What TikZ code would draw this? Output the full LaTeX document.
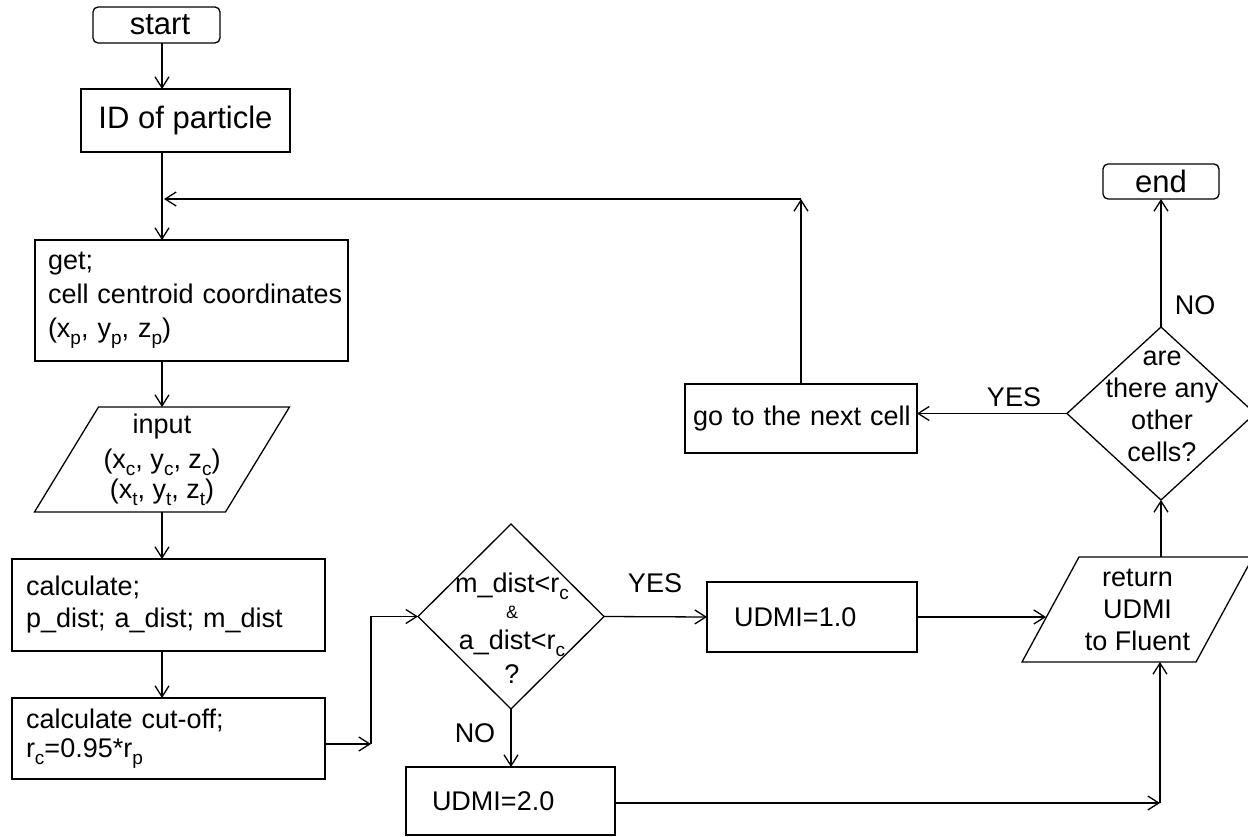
\documentclass[tikz,border=0pt]{standalone}
\usepackage{fontspec}
\setmainfont{Liberation Sans}
\usetikzlibrary{arrows.meta,shapes.geometric}
\newcommand\mysub[1]{\raisebox{-7pt}{\fontsize{19}{19}\selectfont #1}}
\begin{document}
\begin{tikzpicture}[x=1pt,y=-1pt,
  lw/.style={line width=1.3pt},
  txt/.style={font=\fontsize{27}{32}\selectfont},
  proc/.style={txt, draw, lw, rectangle, outer sep=0pt, inner ysep=0pt, align=left},
  term/.style={draw, lw, rectangle, rounded corners=5pt, outer sep=0pt, inner sep=0pt, font=\fontsize{31}{36}\selectfont},
  io/.style={txt, rectangle, outer sep=0pt, inner sep=0pt, align=center},
  dec/.style={draw, lw, diamond, outer sep=0pt, inner sep=0pt},
  lbl/.style={txt, inner sep=0pt, align=center},
  arr/.style={lw, -{Straight Barb[length=11pt,width=14pt]}}
]
\useasboundingbox (0,0) rectangle (1248,837);
\coordinate (spine) at (162,0);
\coordinate (j1) at (371,744);
\coordinate (j2) at (1160,803);
\coordinate (j3) at (801,199);
\coordinate (retin) at (1046,617);

% nodes
\node[term, minimum width=127pt, minimum height=36pt] (start) at (156.5,25) {\hspace*{7pt}start};
\node[proc, align=center, font=\fontsize{31}{36}\selectfont, minimum width=209pt, minimum height=63pt] (id) at (185.5,120.5) {ID of particle};
\node[proc, minimum width=313pt, minimum height=121pt, inner xsep=13pt, text width=287pt, font=\fontsize{27}{34}\selectfont] (get) at (191.5,300.5)
  {\mbox{get;}\\\mbox{cell centroid coordinates}\\\mbox{(x\mysub{p}, y\mysub{p}, z\mysub{p})}};
\node[io, minimum width=191pt, minimum height=105pt] (input) at (162,459.5)
  {input\\[3pt](x\mysub{c}, y\mysub{c}, z\mysub{c})\\[-2pt](x\mysub{t}, y\mysub{t}, z\mysub{t})};
\draw[lw] ([xshift=32pt]input.north west) -- ([xshift=32pt]input.north east) -- ([xshift=-32pt]input.south east) -- ([xshift=-32pt]input.south west) -- cycle;
\node[proc, minimum width=313pt, minimum height=92pt, inner xsep=14pt, text width=285pt] (calc) at (168.5,605)
  {\mbox{calculate;}\\\mbox{p\_dist; a\_dist; m\_dist}};
\node[proc, minimum width=313pt, minimum height=81pt, inner xsep=14pt, text width=285pt] (cut) at (168.5,738.5)
  {\mbox{calculate cut-off;}\\[-3pt]\mbox{r\mysub{c}=0.95*r\mysub{p}}};
\node[dec, minimum width=186pt, minimum height=185pt] (d1) at (511,616.5) {};
\node[lbl] (d1t) at (512,628.5)
  {m\_dist<r\mysub{c}\\[-6pt]{\fontsize{18}{18}\selectfont\&}\\[-1pt]a\_dist<r\mysub{c}\\[2pt]?};
\node[proc, minimum width=210pt, minimum height=70pt, inner xsep=27pt, text width=156pt] (u1) at (812,617) {\mbox{UDMI=1.0}};
\node[proc, minimum width=209pt, minimum height=68pt, inner xsep=26pt, text width=157pt] (u2) at (510.5,801) {\mbox{UDMI=2.0}};
\node[io, minimum width=174pt, minimum height=105pt] (ret) at (1137.5,609.5) {return\\UDMI\\to Fluent};
\draw[lw] ([xshift=28.5pt]ret.north west) -- ([xshift=28.5pt]ret.north east) -- ([xshift=-28.5pt]ret.south east) -- ([xshift=-28.5pt]ret.south west) -- cycle;
\node[dec, minimum width=188pt, minimum height=173pt] (d2) at (1161,413.5) {};
\node[lbl] (d2t) at (1162,406) {are\\there any\\other\\cells?};
\node[proc, minimum width=232pt, minimum height=69pt, inner xsep=8pt, text width=216pt] (go) at (801,418.5) {\mbox{go to the next cell}};
\node[term, minimum width=116pt, minimum height=35pt] (end) at (1161,181.5) {end};

% labels
\node[lbl] (yes1) at (655,583) {YES};
\node[lbl] (no1) at (475,733) {NO};
\node[lbl] (yes2) at (1014,397) {YES};
\node[lbl] (no2) at (1195,305) {NO};

% connectors
\draw[arr] (start.south -| spine) -- (id.north -| spine);
\draw[arr] (id.south -| spine) -- (get.north -| spine);
\draw[arr] (get.south -| spine) -- (input.north);
\draw[arr] (input.south) -- (calc.north -| spine);
\draw[arr] (calc.south -| spine) -- (cut.north -| spine);
\draw[arr] (cut.east |- j1) -- (j1);
\draw[arr] (j1) |- (d1.west);
\draw[arr] (d1.east) -- (u1.west);
\draw[arr] (d1.south) -- (u2.north -| d1.south);
\draw[arr] (u2.east |- j2) -- (j2);
\draw[arr] (j2) -- (ret.south -| j2);
\draw[arr] (u1.east) -- (retin);
\draw[arr] (ret.north -| d2.south) -- (d2.south);
\draw[arr] (d2.north) -- (end.south);
\draw[arr] (d2.west) -- (go.east |- d2.west);
\draw[arr] (go.north) -- (j3);
\draw[arr, shorten >=2pt] (j3) -- (j3 -| spine);
\end{tikzpicture}
\end{document}
